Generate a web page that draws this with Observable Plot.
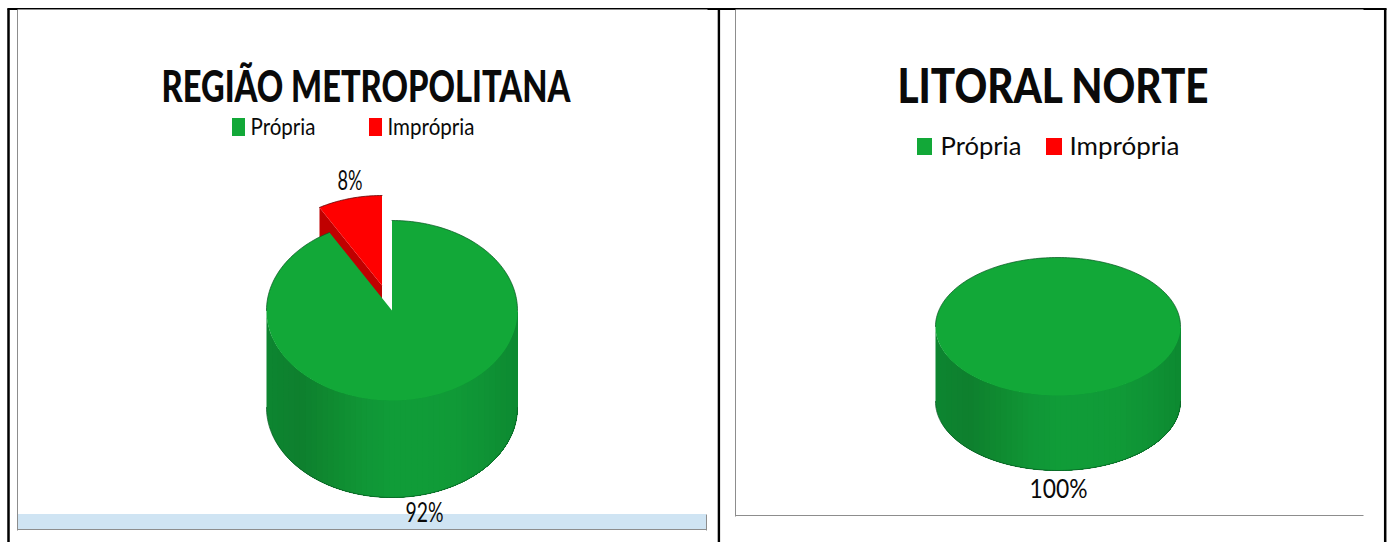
<!DOCTYPE html>
<html><head><meta charset="utf-8">
<style>html,body{margin:0;padding:0;background:#fff;overflow:hidden}svg{display:block}</style>
<script src="https://cdn.jsdelivr.net/npm/d3@7"></script>
<script src="https://cdn.jsdelivr.net/npm/@observablehq/plot@0.6"></script>
</head><body><div id="c"></div>
<script>
const categories = ["Própria", "Imprópria"];
const colors = ["#12a838", "#ff0000"];
const regions = ["REGIÃO METROPOLITANA", "LITORAL NORTE"];
const metroValues = [91.7, 8.3];
const litoralValues = [100, 0];
const shadeStops = ["#0d8530", "#0e7f2e", "#0f8a30", "#109536", "#109c38", "#109c38", "#109a37", "#0f9335", "#0d8a31"];

const W = 1389, H = 542;
const metro = {cx: 391.5, cy: 310, rx: 125.5, ry: 90, depth: 97, ex: 10, ey: 25};
const litoral = {cx: 1057.5, cy: 326, rx: 122.5, ry: 69, depth: 75};
const C = 2 * Math.PI;

const pts = (o, id, a0, a1, n, dy = 0, dx = 0, ddy = 0) =>
  d3.range(n + 1).map(i => {
    const a = a0 + (a1 - a0) * i / n;
    return {id, x: o.cx + dx + o.rx * Math.sin(a), y: o.cy + ddy + dy - o.ry * Math.cos(a)};
  });

// cylinder wall: painted left to right, each band reaching the far edge, so no seams
function side(o, prefix) {
  const n = 45;
  const shade = d3.scaleLinear()
    .domain(d3.range(shadeStops.length).map(i => i / (shadeStops.length - 1)))
    .range(shadeStops).interpolate(d3.interpolateRgb);
  const out = [];
  for (let i = 0; i < n; i++) {
    const x0 = -1 + 2 * i / n;
    const start = Math.PI + Math.asin(-x0);
    const id = prefix + String(i).padStart(3, "0");
    const ring = pts(o, id, start, Math.PI / 2, 40).concat(pts(o, id, Math.PI / 2, start, 40, o.depth));
    ring.forEach(p => p.fill = shade(i / (n - 1)));
    out.push(...ring);
  }
  return out;
}

const redAngle = C * metroValues[1] / d3.sum(metroValues);
const redTop = [{id: "rt", x: metro.cx - metro.ex, y: metro.cy - metro.ey},
  ...pts(metro, "rt", 0, -redAngle, 24, 0, -metro.ex, -metro.ey)];
const rEnd = redTop[redTop.length - 1];
const redWall = [
  {id: "rw", x: rEnd.x, y: rEnd.y},
  {id: "rw", x: metro.cx - metro.ex, y: metro.cy - metro.ey},
  {id: "rw", x: metro.cx - metro.ex, y: metro.cy - metro.ey + metro.depth},
  {id: "rw", x: rEnd.x, y: rEnd.y + metro.depth}
];
const redEdge = pts(metro, "re", -redAngle, 0, 24, 0, -metro.ex, -metro.ey);
const greenTop = [{id: "gt", x: metro.cx, y: metro.cy},
  ...pts(metro, "gt", 0, C - redAngle, 220)];
const litTop = pts(litoral, "lt", 0, C, 240);

// outer silhouette arcs
const edgeMetro = [
  ...pts(metro, "ema", 0, Math.PI / 2, 60),
  ...pts(metro, "emb", 1.5 * Math.PI, C - redAngle, 30),
  ...pts(metro, "emc", Math.PI / 2, 1.5 * Math.PI, 120, metro.depth)
];
const edgeLit = [
  ...pts(litoral, "ela", -Math.PI / 2, Math.PI / 2, 120),
  ...pts(litoral, "elc", Math.PI / 2, 1.5 * Math.PI, 120, litoral.depth)
];

const rect = (x1, y1, x2, y2, fill) => Plot.rect([{x1, y1, x2, y2}], {x1: "x1", x2: "x2", y1: "y1", y2: "y2", fill});
const rule = (x1, y1, x2, y2, stroke, w) => Plot.link([{x1, y1, x2, y2}], {x1: "x1", y1: "y1", x2: "x2", y2: "y2", stroke, strokeWidth: w});
const poly = (data, fill) => Plot.line(data, {x: "x", y: "y", z: "id", fill, curve: "linear-closed"});
const wall = data => Plot.line(data, {x: "x", y: "y", z: "id", fill: "fill", curve: "linear-closed"});
const edge = (data, stroke, op) => Plot.line(data, {x: "x", y: "y", z: "id", stroke, strokeWidth: 1, strokeOpacity: op});
const text = (s, x, y, size, len, weight = 400, anchor = "middle") =>
  Plot.text([s], {
    x: () => x, y: () => y, text: d => d, fontSize: size, fontWeight: weight, textAnchor: anchor,
    fill: "#0a0a0a", fontFamily: "Lato, sans-serif", lineAnchor: "middle",
    render(index, scales, values, dims, ctx, next) {
      const g = next(index, scales, values, dims, ctx);
      g.querySelectorAll("text").forEach(t => {
        t.setAttribute("textLength", len);
        t.setAttribute("lengthAdjust", "spacingAndGlyphs");
      });
      return g;
    }
  });

const chart = Plot.plot({
  width: W, height: H, margin: 0,
  x: {domain: [0, W], range: [0, W], axis: null},
  y: {domain: [0, H], range: [0, H], axis: null},
  style: {background: "#fff"},
  marks: [
    rect(17, 514, 706, 529, "#cfe4f3"),
    rule(17, 529, 706, 529, "#8d8d8d", 1),
    rule(17, 9, 17, 530, "#8d8d8d", 1),
    rule(706, 514, 706, 530, "#8d8d8d", 1),
    rule(735, 9, 735, 516, "#8d8d8d", 1),
    rule(735, 515, 1363, 515, "#8d8d8d", 1),
    rule(7, 8.5, 1386, 8.5, "#000", 2),
    rule(17, 9, 707, 9, "#8d8d8d", 1),
    rule(735, 9, 1363, 9, "#8d8d8d", 1),
    rule(8, 8, 8, 542, "#000", 2.5),
    rule(718.4, 8, 718.4, 542, "#000", 2.4),
    rule(1384.7, 8, 1384.7, 542, "#000", 2.5),
    // metro pie
    poly(redWall, "#c00000"),
    poly(redTop, colors[1]),
    edge(redEdge, "#5a0000", 0.75),
    wall(side(metro, "ms")),
    poly(greenTop, colors[0]),
    edge(edgeMetro, "#0a5c24", 0.75),
    // litoral pie
    wall(side(litoral, "ls")),
    poly(litTop, colors[0]),
    edge(edgeLit, "#0a5c24", 0.75),
    // titles and labels
    text(regions[0], 365.5, 87, 44, 409, 900),
    text(regions[1], 1052.5, 87, 47, 311, 900),
    rect(232, 118, 245, 136, colors[0]),
    rect(369, 118, 382, 136, colors[1]),
    text(categories[0], 250, 127, 23, 65, 400, "start"),
    text(categories[1], 387, 127, 23, 87, 400, "start"),
    rect(917, 138, 932, 155, colors[0]),
    rect(1046, 138, 1062, 155, colors[1]),
    text(categories[0], 940, 147, 24.5, 81, 400, "start"),
    text(categories[1], 1069, 147, 24.5, 110, 400, "start"),
    text(Math.round(metroValues[1]) + "%", 349.5, 181, 27, 25),
    text(Math.round(metroValues[0]) + "%", 424, 513.6, 26, 38),
    text(litoralValues[0] + "%", 1058, 489.5, 26.5, 58)
  ]
});
document.getElementById("c").append(chart);
</script></body></html>
